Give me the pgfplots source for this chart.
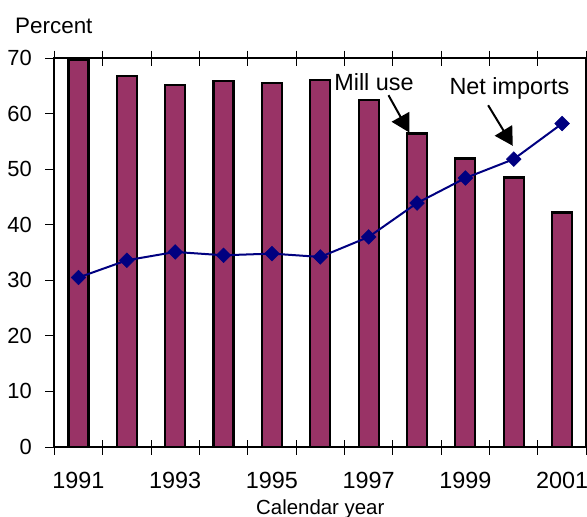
\documentclass[border=0pt]{standalone}
\usepackage{fontspec}
\setmainfont{Liberation Sans}
\usepackage{pgfplots}
\pgfplotsset{compat=1.18}
\usetikzlibrary{arrows.meta}
\definecolor{millcol}{RGB}{153,51,102}
\definecolor{impcol}{RGB}{0,0,128}
\begin{document}
\begin{tikzpicture}
\useasboundingbox (-54.3bp,-70bp) rectangle (532.7bp,447bp);
\begin{axis}[
    scale only axis,
    width=532bp, height=389bp,
    at={(0,0)}, anchor=south west,
    xmin=-0.5, xmax=10.5,
    ymin=0, ymax=70,
    % category boundaries: ticks crossing the axis
    xtick={-0.5,0.5,...,10.5},
    xticklabels={},
    xtick align=center,
    major tick length=15bp,
    % year labels at every other category centre
    extra x ticks={0,2,...,10},
    extra x tick labels={1991,1993,1995,1997,1999,2001},
    extra x tick style={major tick length=0pt, tick style={draw=none}},
    % y ticks outside, shorter
    ytick=\empty,
    extra y ticks={0,10,...,70},
    extra y tick style={major tick length=9bp, ytick align=outside},
    ytick align=outside,
    tick style={black, line width=1bp},
    axis line style={line width=2bp},
    /pgf/number format/assume math mode=true,
    ticklabel style={font=\fontsize{22}{26}\selectfont},
    xticklabel style={font=\fontsize{23.5}{26}\selectfont, anchor=base, yshift=-41bp},
    yticklabel style={xshift=-10bp},
    every axis x label/.style={at={(rel axis cs:0.5,0)}, anchor=base, yshift=-67bp},
    every axis y label/.style={at={(rel axis cs:0,1)}, anchor=base west, xshift=-42.6bp, yshift=25bp},
    xlabel={Calendar year},
    ylabel={Percent},
    xlabel style={font=\fontsize{20.5}{23}\selectfont},
    ylabel style={font=\fontsize{22.5}{26}\selectfont},
    clip=false,
]
% Mill use
\addplot[ybar, bar width=20bp, fill=millcol, draw=black, line width=2.2bp]
coordinates {(0,69.6) (1,66.8) (2,65.1) (3,65.8) (4,65.5) (5,66.1)
             (6,62.4) (7,56.4) (8,51.9) (9,48.5) (10,42.2)};
% Net imports
\addplot[impcol, line width=2bp, mark=square*, mark size=5.2bp,
         mark options={rotate=45, fill=impcol, draw=impcol, line width=0.5bp}]
coordinates {(0,30.5) (1,33.6) (2,35.1) (3,34.5) (4,34.8) (5,34.2)
             (6,37.8) (7,43.9) (8,48.4) (9,51.8) (10,58.2)};
\draw[line width=2bp, -{Triangle[length=18bp,width=20bp]}] (axis cs:6.41,63.3) -- (axis cs:6.84,56.6);
\draw[line width=2bp, -{Triangle[length=18bp,width=20bp]}] (axis cs:8.47,61.5) -- (axis cs:8.98,54.2);
\node[anchor=base, font=\fontsize{23.5}{26}\selectfont] at (axis cs:6.11,64.1) {Mill use};
\node[anchor=base, font=\fontsize{23.5}{26}\selectfont] at (axis cs:8.91,63.5) {Net imports};
\end{axis}
\end{tikzpicture}
\end{document}
